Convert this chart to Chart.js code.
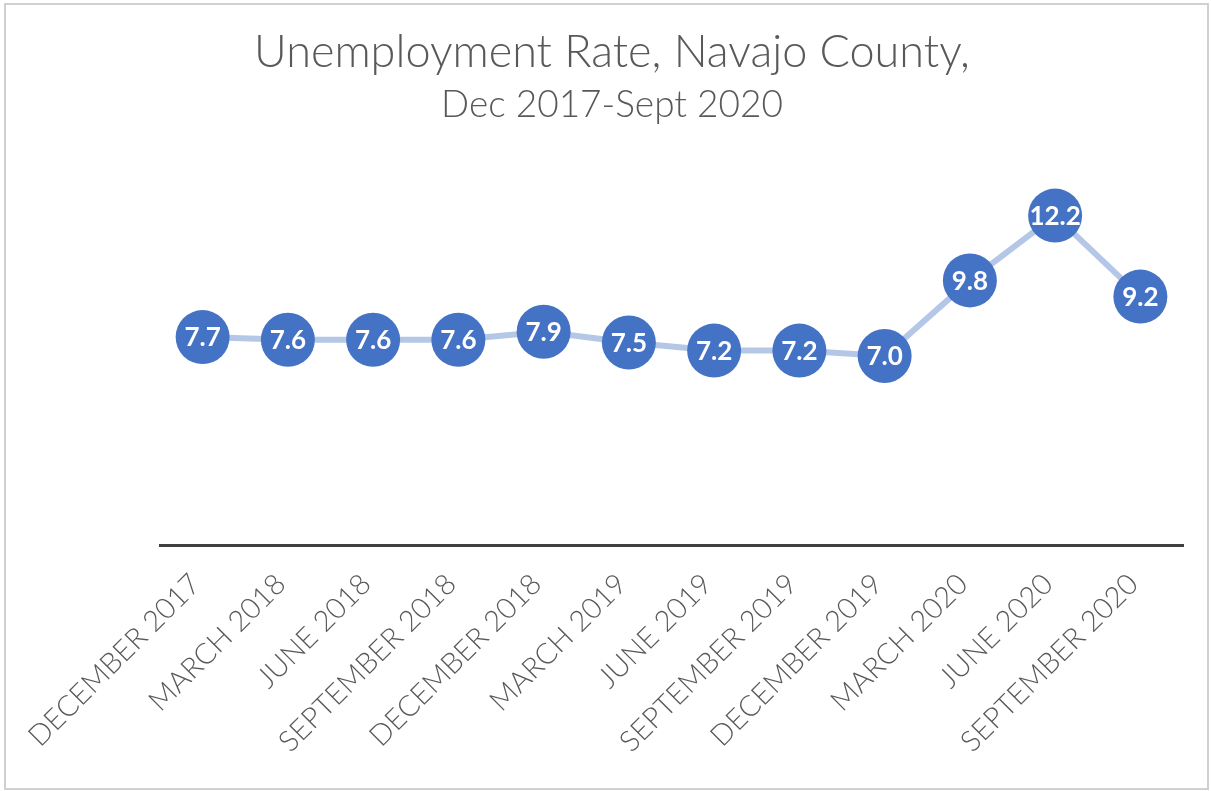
<!DOCTYPE html>
<html>
<head>
<meta charset="utf-8">
<title>Unemployment Rate, Navajo County</title>
<script src="https://cdn.jsdelivr.net/npm/chart.js@4"></script>
<style>
  html, body { margin: 0; padding: 0; background: #ffffff; }
  #wrap { width: 1211px; height: 791px; position: relative; }
</style>
</head>
<body>
<div id="wrap"><canvas id="chart"></canvas></div>
<script>
var quarters = [
  'DECEMBER 2017', 'MARCH 2018', 'JUNE 2018', 'SEPTEMBER 2018',
  'DECEMBER 2018', 'MARCH 2019', 'JUNE 2019', 'SEPTEMBER 2019',
  'DECEMBER 2019', 'MARCH 2020', 'JUNE 2020', 'SEPTEMBER 2020'
];
var unemploymentRate = [7.7, 7.6, 7.6, 7.6, 7.9, 7.5, 7.2, 7.2, 7.0, 9.8, 12.2, 9.2];

var titleLine = 'Unemployment Rate, Navajo County,';
var subtitleLine = 'Dec 2017-Sept 2020';

var textGray = '#595959';

// white background, thin frame and the two-line heading
var frameAndTitle = {
  id: 'frameAndTitle',
  beforeDraw: function(chart) {
    var ctx = chart.ctx;
    ctx.save();
    ctx.fillStyle = '#ffffff';
    ctx.fillRect(0, 0, chart.width, chart.height);
    ctx.strokeStyle = '#d0d0d0';
    ctx.lineWidth = 2;
    ctx.strokeRect(5, 4, chart.width - 8, chart.height - 6);

    ctx.fillStyle = textGray;
    ctx.textAlign = 'center';
    ctx.textBaseline = 'alphabetic';
    ctx.font = '300 45px Lato, "Open Sans", sans-serif';
    ctx.fillText(titleLine, 612, 67);
    ctx.font = '300 37px Lato, "Open Sans", sans-serif';
    ctx.fillText(subtitleLine, 612, 117);
    ctx.restore();
  }
};

// value printed in white inside each marker
var pointValues = {
  id: 'pointValues',
  afterDatasetsDraw: function(chart) {
    var ctx = chart.ctx;
    var meta = chart.getDatasetMeta(0);
    var values = chart.data.datasets[0].data;
    ctx.save();
    ctx.fillStyle = '#ffffff';
    ctx.font = 'bold 26px Lato, "Open Sans", sans-serif';
    ctx.textAlign = 'center';
    ctx.textBaseline = 'middle';
    meta.data.forEach(function(pt, i) {
      ctx.fillText(values[i].toFixed(1), pt.x, pt.y + 1);
    });
    ctx.restore();
  }
};

new Chart(document.getElementById('chart'), {
  type: 'line',
  data: {
    labels: quarters,
    datasets: [{
      data: unemploymentRate,
      borderColor: '#b4c7e7',
      borderWidth: 6,
      pointRadius: 27,
      pointHoverRadius: 27,
      pointBackgroundColor: '#4472c4',
      pointBorderColor: '#4472c4',
      pointBorderWidth: 0,
      tension: 0,
      clip: false
    }]
  },
  options: {
    responsive: true,
    maintainAspectRatio: false,
    animation: false,
    layout: {
      padding: { top: 167, right: 28, bottom: 0, left: 0 }
    },
    plugins: {
      legend: { display: false },
      tooltip: { enabled: false }
    },
    scales: {
      x: {
        offset: true,
        grid: { display: false, drawTicks: false },
        border: { display: true, color: '#404040', width: 3 },
        ticks: {
          color: textGray,
          font: { family: 'Lato, "Open Sans", sans-serif', size: 29, weight: 300 },
          minRotation: 45,
          maxRotation: 45,
          autoSkip: false,
          padding: 22,
          labelOffset: -7
        },
        afterFit: function(scale) {
          scale.height = 246;
        }
      },
      y: {
        min: 0,
        max: 14,
        grid: { display: false, drawTicks: false },
        border: { display: false },
        ticks: { display: false },
        afterFit: function(scale) {
          scale.width = 160;
        }
      }
    }
  },
  plugins: [frameAndTitle, pointValues]
});
</script>
</body>
</html>
